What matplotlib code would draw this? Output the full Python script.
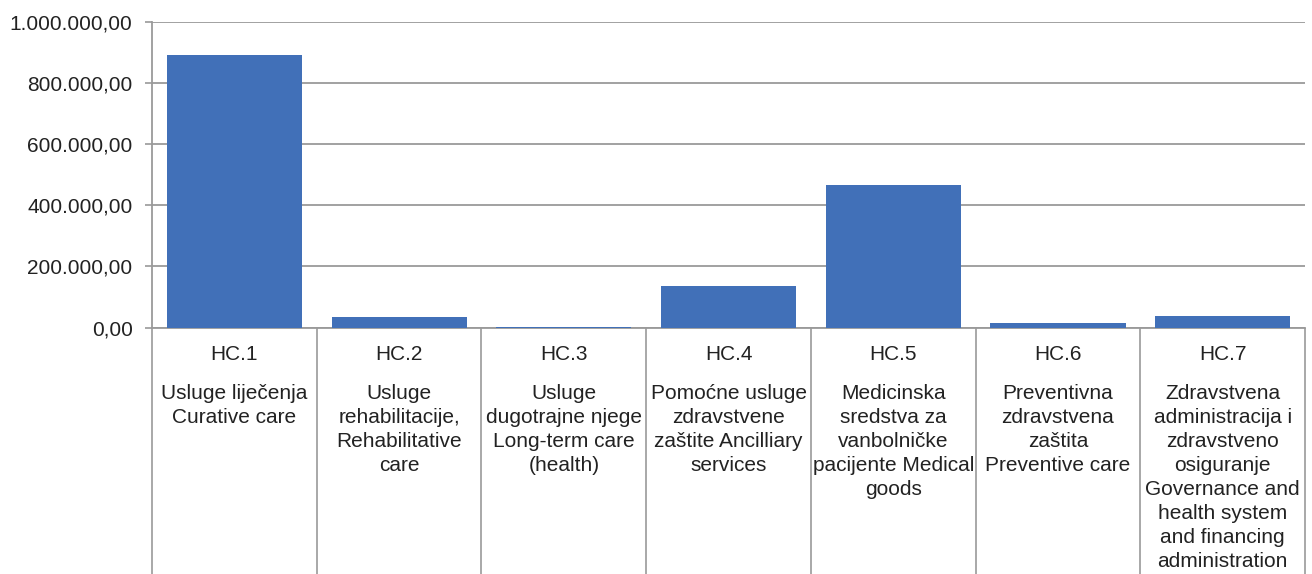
import matplotlib
matplotlib.use("Agg")
from matplotlib import pyplot as plt
from matplotlib.ticker import FuncFormatter

codes = ['HC.1', 'HC.2', 'HC.3', 'HC.4', 'HC.5', 'HC.6', 'HC.7']
descriptions = [
    'Usluge liječenja\nCurative care',
    'Usluge\nrehabilitacije,\nRehabilitative\ncare',
    'Usluge\ndugotrajne njege\nLong-term care\n(health)',
    'Pomoćne usluge\nzdravstvene\nzaštite Ancilliary\nservices',
    'Medicinska\nsredstva za\nvanbolničke\npacijente Medical\ngoods',
    'Preventivna\nzdravstvena\nzaštita\nPreventive care',
    'Zdravstvena\nadministracija i\nzdravstveno\nosiguranje\nGovernance and\nhealth system\nand financing\nadministration',
]
values = [890000, 35000, 1500, 135000, 467000, 15000, 39000]
yticks = [0, 200000, 400000, 600000, 800000, 1000000]

grey = '#9a9a9a'
blue = '#4170b8'
font_size = 15

plt.rcParams['font.family'] = ['Liberation Sans', 'DejaVu Sans']

fig = plt.figure(figsize=(13.12, 5.74), dpi=100)
ax = fig.add_axes([0.1159, 0.4291, 0.8788, 0.5334])

x = list(range(len(codes)))
ax.bar(x, values, width=0.82, color=blue, zorder=3)

ax.set_xlim(-0.5, len(codes) - 0.5)
ax.set_ylim(0, 1000000)
ax.set_yticks(yticks)


def fmt(v, pos):
    s = '{:,.2f}'.format(v)
    return s.replace(',', 'X').replace('.', ',').replace('X', '.')


ax.yaxis.set_major_formatter(FuncFormatter(fmt))
ax.tick_params(axis='y', length=5, width=1.2, color=grey, pad=9,
               labelsize=font_size, labelcolor='#222222')
ax.grid(axis='y', color=grey, linewidth=1.3, zorder=0)

# category boundaries as long ticks below the axis
ax.set_xticks([i - 0.5 for i in range(len(codes) + 1)])
ax.set_xticklabels([])
ax.tick_params(axis='x', length=178, width=1.2, color=grey)

for side in ['top', 'right']:
    ax.spines[side].set_visible(False)
for side in ['left', 'bottom']:
    ax.spines[side].set_color(grey)
    ax.spines[side].set_linewidth(1.3)

trans = ax.get_xaxis_transform()
for i in x:
    ax.text(i, -0.055, codes[i], transform=trans, ha='center', va='top',
            fontsize=font_size, color='#222222')
    ax.text(i, -0.183, descriptions[i], transform=trans, ha='center', va='top',
            fontsize=font_size, color='#222222', linespacing=1.34)

fig.savefig('out.png', dpi=100)
